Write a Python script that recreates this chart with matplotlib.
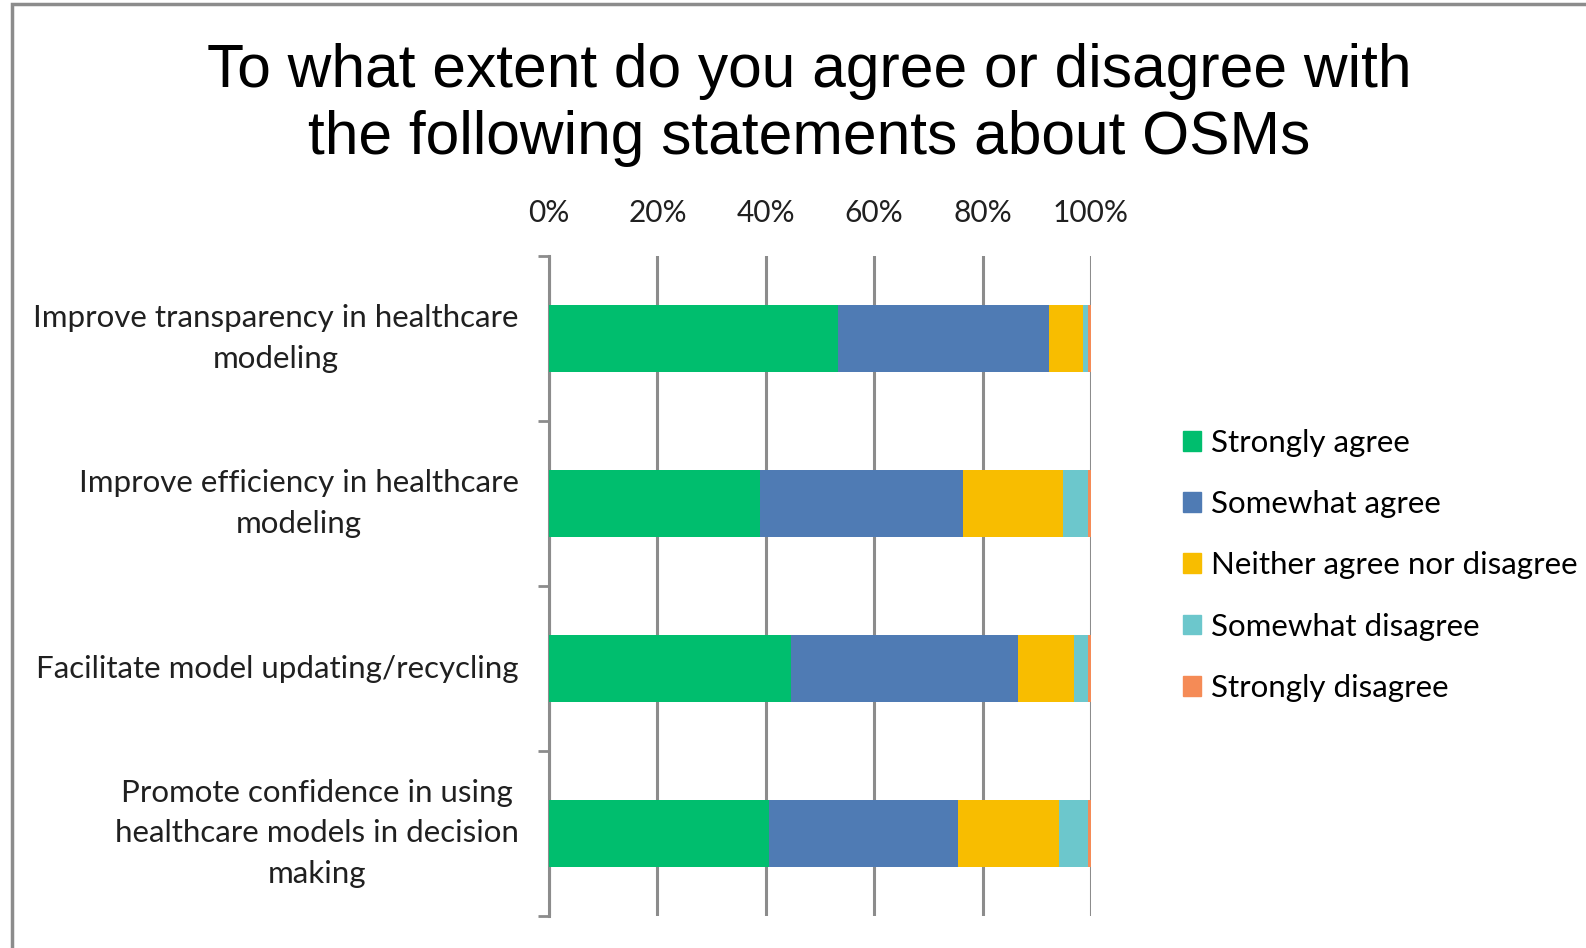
import numpy as np
import matplotlib.pyplot as plt
from matplotlib.patches import Patch, Rectangle

# survey statements (top to bottom) and response shares in percent
statements = [
    "Improve transparency in healthcare\nmodeling",
    "Improve efficiency in healthcare\nmodeling",
    "Facilitate model updating/recycling",
    "Promote confidence in using\nhealthcare models in decision\nmaking",
]
responses = ["Strongly agree", "Somewhat agree", "Neither agree nor disagree",
             "Somewhat disagree", "Strongly disagree"]
strongly_agree = [53.3, 39.0, 44.7, 40.5]
somewhat_agree = [39.0, 37.3, 41.9, 34.9]
neither = [6.3, 18.5, 10.2, 18.7]
somewhat_disagree = [0.8, 4.6, 2.6, 5.3]
strongly_disagree = [0.6, 0.6, 0.6, 0.6]
colors = ["#00BE6E", "#4F7BB4", "#F8BD00", "#6CC7CC", "#F58B56"]

series = [strongly_agree, somewhat_agree, neither, somewhat_disagree, strongly_disagree]

plt.rcParams['font.family'] = ['Lato', 'DejaVu Sans']

fig = plt.figure(figsize=(15.86, 9.48), dpi=100)
ax = fig.add_axes([0.3462, 0.0338, 0.3417, 0.696])

y = np.arange(len(statements))
left = np.zeros(len(statements))
for vals, col, name in zip(series, colors, responses):
    ax.barh(y, vals, left=left, height=0.41, color=col, label=name, zorder=3)
    left += np.array(vals)

ax.set_xlim(0, 100)
ax.set_ylim(len(statements) - 0.5, -0.5)
ax.set_xticks(np.arange(0, 101, 20))
ax.set_xticklabels([f"{v}%" for v in range(0, 101, 20)])
ax.xaxis.tick_top()
ax.tick_params(axis='x', length=0, pad=21, labelsize=21.5, labelcolor='#202020')
ax.grid(axis='x', color='#8c8c8c', linewidth=2.2, zorder=0)

ax.set_yticks(y)
ax.set_yticklabels(statements, multialignment='center', linespacing=1.55)
for lbl in ax.get_yticklabels():
    lbl.set_verticalalignment('center')
ax.tick_params(axis='y', which='major', length=0, pad=22, labelsize=22.5, labelcolor='#202020')
ax.set_yticks(np.arange(-0.5, len(statements), 1), minor=True)
ax.tick_params(axis='y', which='minor', length=8, width=2, color='#8c8c8c')

for s in ['top', 'right', 'bottom']:
    ax.spines[s].set_visible(False)
ax.spines['left'].set_color('#8c8c8c')
ax.spines['left'].set_linewidth(2.2)

fig.text(0.51, 0.889, "To what extent do you agree or disagree with\nthe following statements about OSMs",
         ha='center', va='center', fontsize=43.6, family='Liberation Sans', linespacing=1.22)

handles = [Patch(color=c, label=n) for c, n in zip(colors, responses)]
fig.legend(handles=handles, loc='upper left', bbox_to_anchor=(0.728, 0.577),
           frameon=False, fontsize=22.5, handlelength=0.6, handleheight=0.6,
           handletextpad=0.3, labelspacing=1.06)

# chart frame
fig.patches.append(Rectangle((12 / 1586, -0.1), 2, 1.1 - 4 / 948, transform=fig.transFigure,
                             fill=False, edgecolor='#8c8c8c', linewidth=2.5))

fig.savefig("out.png", dpi=100)
